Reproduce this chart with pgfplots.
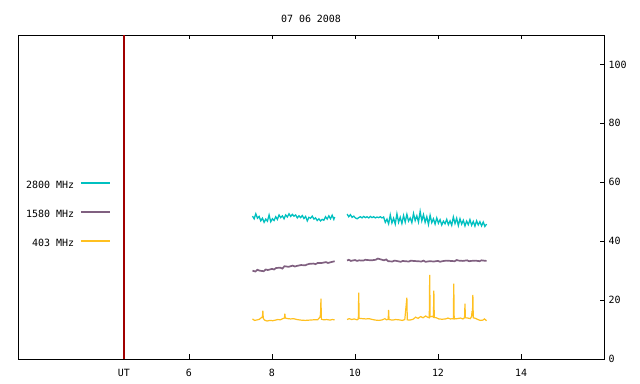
\documentclass[border=0pt]{standalone}
\usepackage{pgfplots}
\pgfplotsset{compat=1.18}
\usepackage{fontspec}
\setmainfont{DejaVu Sans Mono}
\newfontfamily\mono{DejaVu Sans Mono}
\definecolor{ccyan}{RGB}{0,192,192}
\definecolor{cpurp}{RGB}{128,96,128}
\definecolor{cyell}{RGB}{255,192,32}
\definecolor{utred}{RGB}{160,0,0}
\begin{document}
\begin{tikzpicture}
\path[use as bounding box] (-18bp,-25bp) rectangle (622bp,359bp);
\begin{axis}[
  at={(0,0)}, anchor=south west,
  scale only axis, width=586bp, height=324bp,
  xmin=1.88, xmax=16, ymin=0, ymax=110,
  clip=false,
  xtick={6,8,10,12,14},
  extra x ticks={4.43}, extra x tick labels={UT},
  extra x tick style={major tick length=0pt},
  ytick={0,20,40,60,80,100},
  xtick pos=both, ytick pos=right, yticklabel pos=right,
  tick align=inside, major tick length=4.5bp,
  axis line style={line width=0.8bp},
  every tick/.style={black, line width=0.8bp},
  tick label style={font=\fontsize{10}{12}\mono},
  /pgf/number format/assume math mode=true,
  xticklabel style={anchor=base, yshift=-18bp},
  yticklabel style={xshift=1bp},
  legend plot pos=right,
  legend cell align=right,
  legend style={draw=none, fill=none, at={(0.158,0.549)}, anchor=north east,
    font=\fontsize{10}{12}\mono, inner sep=0pt, outer sep=0pt, row sep=20bp, column sep=6bp,
    nodes={inner sep=0pt, text height=7bp, text depth=2bp}},
  legend image code/.code={\draw[#1] (0bp,2.5bp) -- (29bp,2.5bp);},
]
\addlegendimage{draw=ccyan, line width=1.5bp}
\addlegendentry{2800 MHz}
\addlegendimage{draw=cpurp, line width=1.5bp}
\addlegendentry{1580 MHz}
\addlegendimage{draw=cyell, line width=1.5bp}
\addlegendentry{403 MHz}
\addplot[draw=utred, line width=1.5bp, forget plot] coordinates {(4.43,0) (4.43,110)};
% 2800 MHz
\addplot[draw=ccyan, line width=1.3bp, forget plot] table {
7.53 48.5
7.57 47.6
7.61 49.3
7.65 47.8
7.69 48.4
7.73 46.9
7.77 47.8
7.81 46.4
7.85 47.5
7.89 46.8
7.93 48.9
7.97 46.6
8.01 47.6
8.05 47.0
8.09 48.3
8.13 47.4
8.17 48.9
8.21 48.0
8.25 48.6
8.29 47.6
8.33 48.9
8.37 48.2
8.41 49.3
8.45 48.4
8.49 49.1
8.53 48.5
8.57 48.9
8.61 47.9
8.65 48.6
8.69 48.0
8.73 48.7
8.77 47.7
8.81 48.4
8.85 46.9
8.89 48.1
8.93 47.8
8.97 48.5
9.01 47.5
9.05 47.9
9.09 47.0
9.13 47.6
9.17 46.9
9.21 47.4
9.25 47.1
9.29 48.3
9.33 47.5
9.37 48.6
9.41 47.6
9.45 48.8
9.49 47.4
9.51 48.2
};
\addplot[draw=cpurp, line width=1.7bp, forget plot] table {
7.53 30.0
7.60 29.7
7.65 30.3
7.70 30.0
7.80 29.8
7.85 30.4
7.90 30.2
8.00 30.6
8.05 30.4
8.10 30.9
8.20 31.0
8.25 30.7
8.30 31.5
8.40 31.3
8.50 31.7
8.55 31.4
8.60 31.6
8.70 31.9
8.80 31.8
8.85 32.1
8.90 32.3
9.00 32.4
9.05 32.2
9.10 32.6
9.20 32.6
9.30 32.9
9.35 32.6
9.40 32.8
9.51 33.2
};
\addplot[draw=cyell, line width=1.2bp, forget plot] table {
7.53 13.6
7.58 13.1
7.65 13.3
7.70 13.5
7.74 14.0
7.77 14.3
7.78 16.4
7.79 13.8
7.82 13.2
7.88 12.9
7.95 13.1
8.02 13.0
8.08 13.2
8.14 13.4
8.20 13.3
8.26 13.7
8.30 13.9
8.31 15.4
8.32 13.9
8.38 13.7
8.45 13.6
8.52 13.7
8.60 13.4
8.70 13.2
8.80 13.1
8.90 13.2
9.00 13.3
9.10 13.3
9.16 14.3
9.17 15.5
9.18 20.5
9.19 13.5
9.25 13.3
9.32 13.4
9.40 13.2
9.45 13.4
9.51 13.3
};
\addplot[draw=ccyan, line width=1.3bp, forget plot] table {
9.81 49.2
9.85 48.3
9.89 49.0
9.93 48.1
9.97 48.5
10.01 47.9
10.05 47.6
10.09 48.0
10.13 48.3
10.17 47.9
10.21 48.4
10.25 48.0
10.29 48.3
10.33 47.9
10.37 48.4
10.41 48.0
10.45 48.3
10.49 47.9
10.53 48.2
10.57 48.0
10.61 48.3
10.65 47.9
10.69 48.2
10.73 46.4
10.77 47.5
10.81 45.9
10.85 48.9
10.89 46.2
10.93 47.8
10.97 45.8
11.01 49.3
11.05 46.4
11.09 48.1
11.13 46.0
11.17 48.7
11.21 46.5
11.25 49.1
11.29 46.8
11.33 47.9
11.37 46.3
11.41 49.4
11.45 47.0
11.49 48.6
11.53 46.5
11.57 50.1
11.61 46.9
11.65 49.0
11.69 46.4
11.73 48.3
11.77 45.7
11.81 48.8
11.85 46.3
11.89 47.6
11.93 45.8
11.97 47.9
12.01 46.1
12.05 47.3
12.09 45.5
12.13 46.8
12.17 45.9
12.21 47.4
12.25 45.6
12.29 46.9
12.33 45.4
12.37 48.2
12.41 46.0
12.45 47.8
12.49 45.3
12.53 47.6
12.57 45.8
12.61 47.1
12.65 45.2
12.69 46.8
12.73 45.6
12.77 47.3
12.81 45.4
12.85 46.7
12.89 45.1
12.93 46.9
12.97 45.5
13.01 46.6
13.05 45.2
13.09 46.5
13.13 45.0
13.17 45.8
};
\addplot[draw=cpurp, line width=1.7bp, forget plot] table {
9.81 33.4
9.85 33.7
9.90 33.3
10.00 33.6
10.05 33.3
10.10 33.5
10.20 33.4
10.25 33.7
10.30 33.6
10.40 33.5
10.50 33.7
10.55 34.1
10.60 33.9
10.70 33.5
10.75 33.8
10.80 33.2
10.90 33.1
10.95 33.4
11.00 33.3
11.10 33.0
11.15 33.3
11.20 33.2
11.30 33.1
11.35 33.4
11.40 33.3
11.50 33.2
11.60 33.1
11.65 33.4
11.70 33.0
11.80 33.2
11.90 33.1
12.00 33.3
12.05 33.0
12.10 33.2
12.20 33.4
12.30 33.3
12.40 33.2
12.45 33.6
12.50 33.4
12.60 33.3
12.70 33.5
12.75 33.2
12.80 33.3
12.90 33.4
13.00 33.2
13.05 33.5
13.10 33.4
13.17 33.3
};
\addplot[draw=cyell, line width=1.2bp, forget plot] table {
9.81 13.4
9.86 13.7
9.92 13.4
9.98 13.6
10.05 13.3
10.08 13.6
10.09 22.5
10.10 13.8
10.18 13.7
10.26 13.6
10.34 13.7
10.42 13.4
10.50 13.2
10.58 13.1
10.66 13.3
10.72 13.7
10.76 13.3
10.80 13.5
10.81 16.7
10.82 13.4
10.90 13.2
10.98 13.4
11.06 13.3
11.14 13.1
11.20 13.4
11.25 20.8
11.26 13.3
11.32 13.2
11.40 13.5
11.46 14.2
11.52 13.8
11.58 14.4
11.64 14.0
11.70 14.6
11.75 14.2
11.79 14.0
11.80 28.6
11.81 14.3
11.86 14.5
11.89 14.2
11.90 23.2
11.91 14.1
11.96 14.0
12.02 13.6
12.10 13.5
12.18 13.6
12.24 13.9
12.30 13.6
12.37 13.7
12.38 25.6
12.39 13.6
12.46 13.7
12.54 13.9
12.60 13.6
12.64 14.0
12.65 18.8
12.66 14.0
12.72 13.9
12.78 13.7
12.81 14.5
12.82 16.2
12.83 14.8
12.84 21.8
12.85 14.0
12.90 13.8
12.96 13.4
13.02 13.1
13.08 13.2
13.12 13.6
13.17 13.0
};
\node[font=\fontsize{10}{12}\mono, anchor=base] at (rel axis cs:0.5,1) [yshift=12bp] {07 06 2008};
\end{axis}
\end{tikzpicture}
\end{document}
